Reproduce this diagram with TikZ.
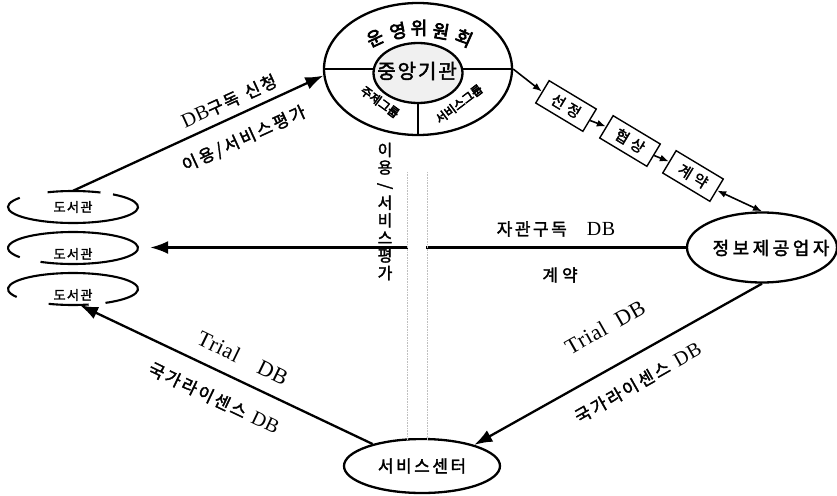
\documentclass[tikz,border=0pt]{standalone}
\usepackage{fontspec}
\usepackage{graphicx}
\setmainfont{Liberation Serif}
\newfontfamily\kr[FakeBold=2]{Noto Sans CJK KR}
\newfontfamily\krb[FakeBold=4]{Noto Sans CJK KR}
\newfontfamily\lat[LetterSpace=3]{Liberation Serif}
\usetikzlibrary{shapes.geometric,arrows.meta}
\makeatletter
\newcommand\spc[2]{\@tfor\spc@c:=#2\do{\spc@c\hspace{#1}}\unskip}
\makeatother
\newcommand\mylow[1]{\raisebox{-6pt}[\height][\depth]{#1}}
\newcommand\dbtxt[1]{{\lat\fontsize{20}{20}\selectfont #1}}
\tikzset{
  ln/.style={line width=2.3pt},
  arr/.style={line width=2.3pt,-{Latex[length=18pt,width=13pt]}},
  sarr/.style={line width=1.6pt,-{Latex[length=9pt,width=7pt]}},
  darr/.style={line width=1.6pt,{Latex[length=9pt,width=7pt]}-{Latex[length=9pt,width=7pt]}},
  ell/.style={ellipse,draw,line width=2.3pt,inner sep=0pt},
  libe/.style={ellipse,inner sep=0pt,minimum width=130pt,minimum height=32pt,font=\kr\fontsize{13}{13}\selectfont},
  libarc/.style={line width=2.1pt},
  lbl/.style={inner sep=0pt,font=\kr\fontsize{17}{17}\selectfont},
  boxn/.style={draw,line width=1.4pt,rotate=-31,minimum width=55pt,minimum height=26pt,inner sep=0pt,font=\kr\fontsize{15}{15}\selectfont},
  ringc/.style={inner sep=0pt,font=\krb\fontsize{18}{18}\selectfont},
  segt/.style={inner sep=0pt,font=\krb\fontsize{12}{12}\selectfont},
  band/.style={gray!50,densely dotted,line width=0.6pt},
}
\begin{document}
\begin{tikzpicture}[x=1pt,y=-1pt]
\useasboundingbox (0,0) rectangle (837,495);

% central body
\node[ell,minimum width=188pt,minimum height=132pt] (outer) at (418,69) {};
\draw[ln] (outer.west) -- (outer.east);
\node[ell,fill=gray!12,minimum width=89pt,minimum height=60pt] (inner) at (418,73) {};
\node[inner sep=0pt,font=\kr\fontsize{20}{20}\selectfont] (cent) at (417,71) {\spc{2pt}{중앙기관}};
\draw[ln] (inner.south) -- (outer.south);
\node[ringc,rotate=25] (r1) at (375,38) {운};
\node[ringc,rotate=12] (r2) at (398,31) {영};
\node[ringc] (r3) at (419,28) {위};
\node[ringc,rotate=-10] (r4) at (441,31) {원};
\node[ringc,rotate=-24] (r5) at (464,38) {회};
\node[segt,rotate=-36] (g1) at (380,102) {주제그룹};
\node[segt,rotate=37] (g2) at (459,104) {서비스그룹};

% libraries
\node[libe] (lib1) at (73,207) {\spc{1.5pt}{도서관}};
\node[libe] (lib2) at (73,248) {\mylow{\spc{1.5pt}{도서관}}};
\node[libe] (lib3) at (73,289) {\mylow{\spc{1.5pt}{도서관}}};
\draw[libarc] ([shift={(65:65pt and 16pt)}]lib1.center) arc[start angle=65,end angle=113,x radius=65pt,y radius=16pt];
\draw[libarc] ([shift={(145:65pt and 16pt)}]lib1.center) arc[start angle=145,end angle=412,x radius=65pt,y radius=16pt];
\draw[libarc] ([shift={(240:65pt and 16pt)}]lib2.center) arc[start angle=240,end angle=575,x radius=65pt,y radius=16pt];
\draw[libarc] ([shift={(300:65pt and 16pt)}]lib3.center) arc[start angle=300,end angle=570,x radius=65pt,y radius=16pt];
\draw[libarc] ([shift={(248:65pt and 16pt)}]lib3.center) arc[start angle=248,end angle=284,x radius=65pt,y radius=16pt];

% provider and service centre
\node[ell,minimum width=150pt,minimum height=70pt] (info) at (762,247.5) {};
\node[inner sep=0pt,font=\kr\fontsize{18}{18}\selectfont] (infot) at (771,248) {\spc{3.5pt}{정보제공업자}};
\node[ell,minimum width=156pt,minimum height=54pt,font=\kr\fontsize{17}{17}\selectfont] (svc) at (422,466) {\spc{2.5pt}{서비스센터}};

% selection chain
\node[boxn] (b1) at (566,106) {선\hspace{4pt}정};
\node[boxn] (b2) at (630,141) {협\hspace{4pt}상};
\node[boxn] (b3) at (693,176) {계\hspace{4pt}약};

% connectors
\draw[arr] (lib1.north) -- (outer.184);
\draw[sarr] (outer.east) -- (b1.west);
\draw[sarr] (b1.east) -- (b2.west);
\draw[sarr] (b2.east) -- (b3.west);
\draw[darr] (b3.east) -- (info.north);
\draw[arr] (info.west) -- ([xshift=12pt]lib2.east |- info.west);
\draw[arr] (info.south) -- (svc.22);
\draw[arr] (svc.156) -- ([xshift=7pt]lib3.south);

% faded vertical band
\fill[white] (408,176) rectangle (426,438);
\draw[band] (407,172) -- (407,440);
\draw[band] (427,172) -- (427,440);

% labels
\node[lbl,rotate=24.6] (l1) at (229,101) {\dbtxt{DB}\spc{2pt}{구독}\ \ \spc{2pt}{신청}};
\node[lbl,rotate=24.6] (l2) at (244,139) {\spc{2.5pt}{이용/서비스평가}};
\node[lbl] (l3) at (556,229) {\spc{2.5pt}{자관구독}\hspace{20pt}\dbtxt{DB}};
\node[lbl] (l4) at (560,275) {\spc{4pt}{계약}};
\node[lbl,rotate=29.6] (l5) at (605,327) {{\lat\fontsize{22}{22}\selectfont Trial\ \ DB}};
\node[lbl,rotate=29.6] (l6) at (638,383) {\spc{2.5pt}{국가라이센스}\ \ \dbtxt{DB}};
\node[lbl,rotate=-26] (l7) at (243,358) {{\lat\fontsize{22}{22}\selectfont Trial\quad DB}};
\node[lbl,rotate=-25.5] (l8) at (214,398) {\spc{2.5pt}{국가라이센스}\ \ \dbtxt{DB}};
\node[inner sep=0pt,align=center,font=\kr\fontsize{16}{17.6}\selectfont] (vt) at (385,211.5)
  {이\\용\\\rotatebox[origin=c]{-90}{/}\\서\\비\\스\\평\\가};
\end{tikzpicture}
\end{document}
